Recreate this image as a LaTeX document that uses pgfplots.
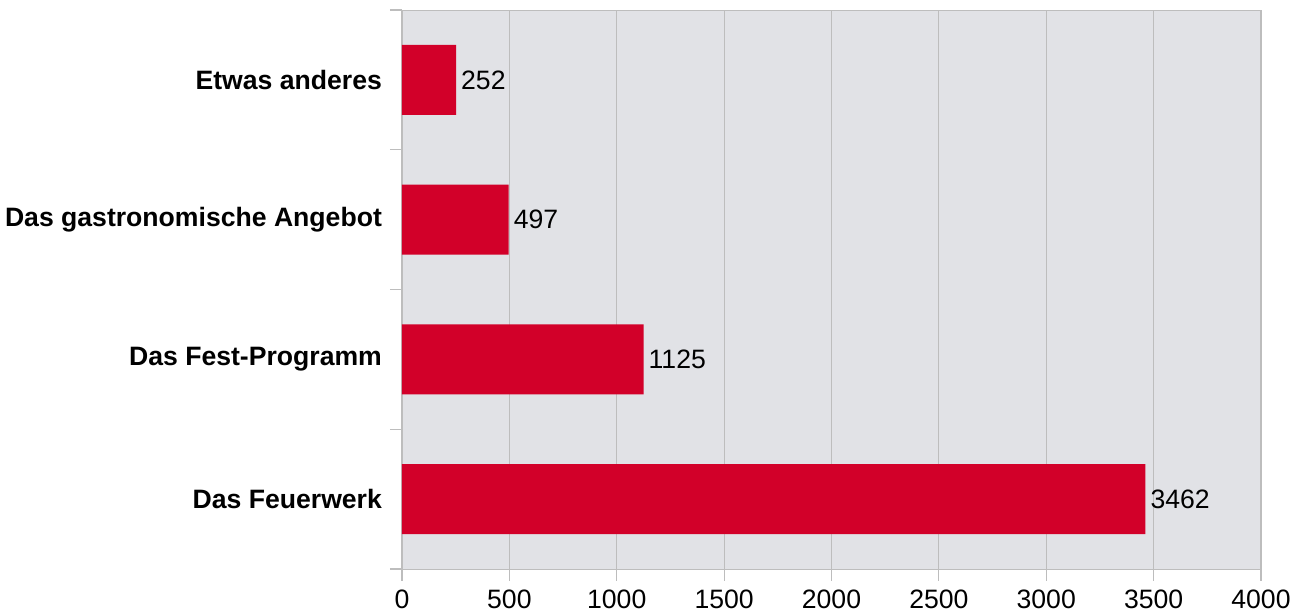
\documentclass[border=0pt]{standalone}
\usepackage{pgfplots}
\pgfplotsset{compat=1.18}
\usepackage{fontspec}
\setmainfont{Liberation Sans}
\definecolor{barred}{HTML}{D20029}
\definecolor{plotbg}{HTML}{E1E2E6}
\definecolor{gridgray}{HTML}{BDBDBD}
\begin{document}
\begin{tikzpicture}
\begin{axis}[
  at={(0,0)}, anchor=south west,
  scale only axis,
  width=429.5pt, height=279.5pt,
  xbar, bar width=0.5,
  xmin=0, xmax=4000,
  ymin=-0.5, ymax=3.5,
  axis background/.style={fill=plotbg},
  axis line style={gridgray},
  xtick={0,500,...,4000},
  xmajorgrids, major grid style={gridgray, line width=0.6pt},
  x tick label style={/pgf/number format/1000 sep=, font=\fontsize{13.3}{15}\selectfont, yshift=-1pt},
  /pgf/number format/assume math mode=true,
  tick align=outside, xtick pos=bottom, ytick pos=left,
  major tick length=6pt,
  every tick/.style={gridgray, line width=0.6pt},
  ytick={-0.5,0.5,1.5,2.5,3.5},
  yticklabels={},
  extra y ticks={0,1,2,3},
  extra y tick labels={Das Feuerwerk, Das Fest-Programm, Das gastronomische Angebot, Etwas anderes},
  extra y tick style={major tick length=0pt,
    tick label style={font=\bfseries\fontsize{13.3}{15}\selectfont, xshift=-6.5pt}},
  nodes near coords,
  every node near coord/.append style={font=\fontsize{13.3}{15}\selectfont, black, anchor=west, xshift=-1pt},
  point meta=explicit symbolic,
  clip=false,
]
\addplot[fill=barred, draw=none] coordinates {
  (3462,0) [3462]
  (1125,1) [1125]
  (497,2) [497]
  (252,3) [252]
};
\end{axis}
\pgfresetboundingbox
\path[use as bounding box] (-201pt,-22.5pt) rectangle (450.5pt,284.5pt);
\end{tikzpicture}
\end{document}
